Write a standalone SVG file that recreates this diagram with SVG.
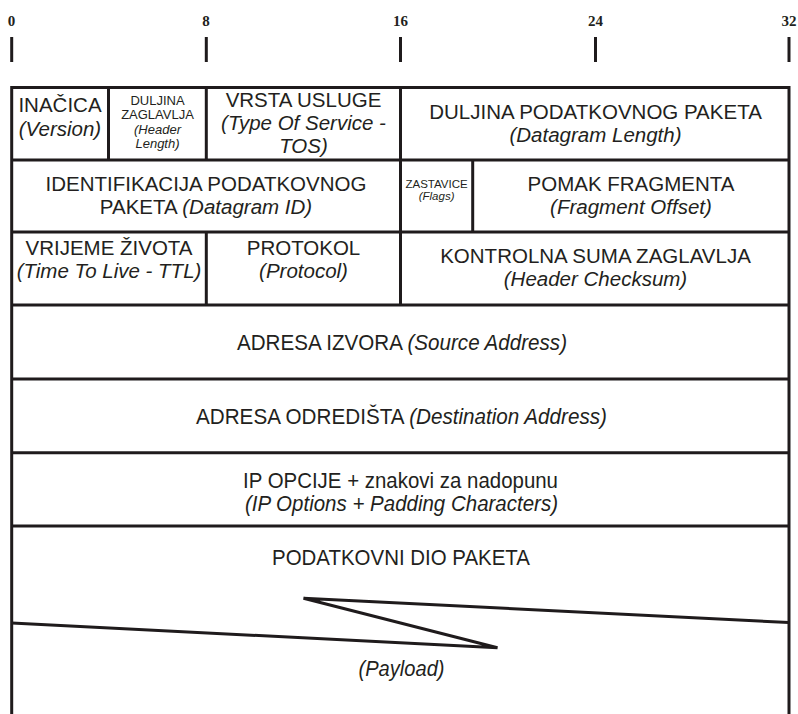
<svg xmlns="http://www.w3.org/2000/svg" width="798" height="714" viewBox="0 0 798 714">
<style>
  .ln { stroke: #1f1b1c; stroke-width: 3; fill: none; stroke-linecap: butt; }
  .t { font-family: "Liberation Sans", Arial, sans-serif; font-size: 20.5px; fill: #231f20; text-anchor: middle; }
  .c { font-size: 22.5px; }
  .i { font-style: italic; }
  .s { font-size: 13px; }
  .xs { font-size: 11.5px; }
  .n { font-family: "Liberation Serif", "Times New Roman", serif; font-weight: bold; font-size: 15px; fill: #231f20; text-anchor: middle; }
</style>
<rect x="0" y="0" width="798" height="714" fill="#ffffff"/>

<g id="ruler">
  <text class="n" x="11.5" y="26">0</text>
  <text class="n" x="206" y="26">8</text>
  <text class="n" x="400.5" y="26">16</text>
  <text class="n" x="595.5" y="26">24</text>
  <text class="n" x="789" y="26">32</text>
  <line class="ln" x1="11.7" y1="37" x2="11.7" y2="62"/>
  <line class="ln" x1="206.3" y1="37" x2="206.3" y2="62"/>
  <line class="ln" x1="400.5" y1="37" x2="400.5" y2="62"/>
  <line class="ln" x1="595.5" y1="37" x2="595.5" y2="62"/>
  <line class="ln" x1="789" y1="37" x2="789" y2="62"/>
</g>

<g id="connectors">
  <polyline class="ln" points="11.7,714 11.7,87.5 789,87.5 789,714"/>
  <line class="ln" x1="11.7" y1="160" x2="789" y2="160"/>
  <line class="ln" x1="11.7" y1="232" x2="789" y2="232"/>
  <line class="ln" x1="11.7" y1="305" x2="789" y2="305"/>
  <line class="ln" x1="11.7" y1="379" x2="789" y2="379"/>
  <line class="ln" x1="11.7" y1="452.7" x2="789" y2="452.7"/>
  <line class="ln" x1="11.7" y1="526" x2="789" y2="526"/>
  <line class="ln" x1="108.5" y1="87.5" x2="108.5" y2="160"/>
  <line class="ln" x1="206.3" y1="87.5" x2="206.3" y2="160"/>
  <line class="ln" x1="400.5" y1="87.5" x2="400.5" y2="160"/>
  <line class="ln" x1="400.5" y1="160" x2="400.5" y2="232"/>
  <line class="ln" x1="472.7" y1="160" x2="472.7" y2="232"/>
  <line class="ln" x1="206.3" y1="232" x2="206.3" y2="305"/>
  <line class="ln" x1="400.5" y1="232" x2="400.5" y2="305"/>
  <polyline class="ln" points="11.7,623 497.5,647.7 303.5,598.3 789,622.5" stroke-linejoin="miter"/>
</g>

<g id="version">
  <text class="t" x="60" y="112">INAČICA</text>
  <text class="t i" x="60" y="136">(Version)</text>
</g>
<g id="header-length">
  <text class="t s" x="157.5" y="105">DULJINA</text>
  <text class="t s" x="157.5" y="119">ZAGLAVLJA</text>
  <text class="t s i" x="157.5" y="134">(Header</text>
  <text class="t s i" x="157.5" y="148">Length)</text>
</g>
<g id="tos">
  <text class="t" x="303.5" y="107">VRSTA USLUGE</text>
  <text class="t i" x="303.5" y="130">(Type Of Service -</text>
  <text class="t i" x="303.5" y="153">TOS)</text>
</g>
<g id="datagram-length">
  <text class="t" x="595.5" y="119">DULJINA PODATKOVNOG PAKETA</text>
  <text class="t i" x="595.5" y="142">(Datagram Length)</text>
</g>
<g id="datagram-id">
  <text class="t" x="206" y="191">IDENTIFIKACIJA PODATKOVNOG</text>
  <text class="t" x="206" y="214">PAKETA <tspan class="i">(Datagram ID)</tspan></text>
</g>
<g id="flags">
  <text class="t xs" x="436.6" y="188">ZASTAVICE</text>
  <text class="t xs i" x="436.6" y="200">(Flags)</text>
</g>
<g id="fragment-offset">
  <text class="t" x="631" y="191">POMAK FRAGMENTA</text>
  <text class="t i" x="631" y="214">(Fragment Offset)</text>
</g>
<g id="ttl">
  <text class="t" x="109" y="255">VRIJEME ŽIVOTA</text>
  <text class="t i" x="109" y="278">(Time To Live - TTL)</text>
</g>
<g id="protocol">
  <text class="t" x="303.5" y="255">PROTOKOL</text>
  <text class="t i" x="303.5" y="278">(Protocol)</text>
</g>
<g id="checksum">
  <text class="t" x="595.5" y="263">KONTROLNA SUMA ZAGLAVLJA</text>
  <text class="t i" x="595.5" y="286">(Header Checksum)</text>
</g>
<g id="source-address">
  <text class="t c" x="402" y="350" textLength="330" lengthAdjust="spacingAndGlyphs">ADRESA IZVORA <tspan class="i">(Source Address)</tspan></text>
</g>
<g id="destination-address">
  <text class="t c" x="401.5" y="424" textLength="411" lengthAdjust="spacingAndGlyphs">ADRESA ODREDIŠTA <tspan class="i">(Destination Address)</tspan></text>
</g>
<g id="options">
  <text class="t c" x="400.5" y="488" textLength="315" lengthAdjust="spacingAndGlyphs">IP OPCIJE + znakovi za nadopunu</text>
  <text class="t c i" x="401.5" y="511" textLength="313" lengthAdjust="spacingAndGlyphs">(IP Options + Padding Characters)</text>
</g>
<g id="payload">
  <text class="t c" x="401" y="565" textLength="258" lengthAdjust="spacingAndGlyphs">PODATKOVNI DIO PAKETA</text>
  <text class="t c i" x="401.5" y="676" textLength="86" lengthAdjust="spacingAndGlyphs">(Payload)</text>
</g>
</svg>
